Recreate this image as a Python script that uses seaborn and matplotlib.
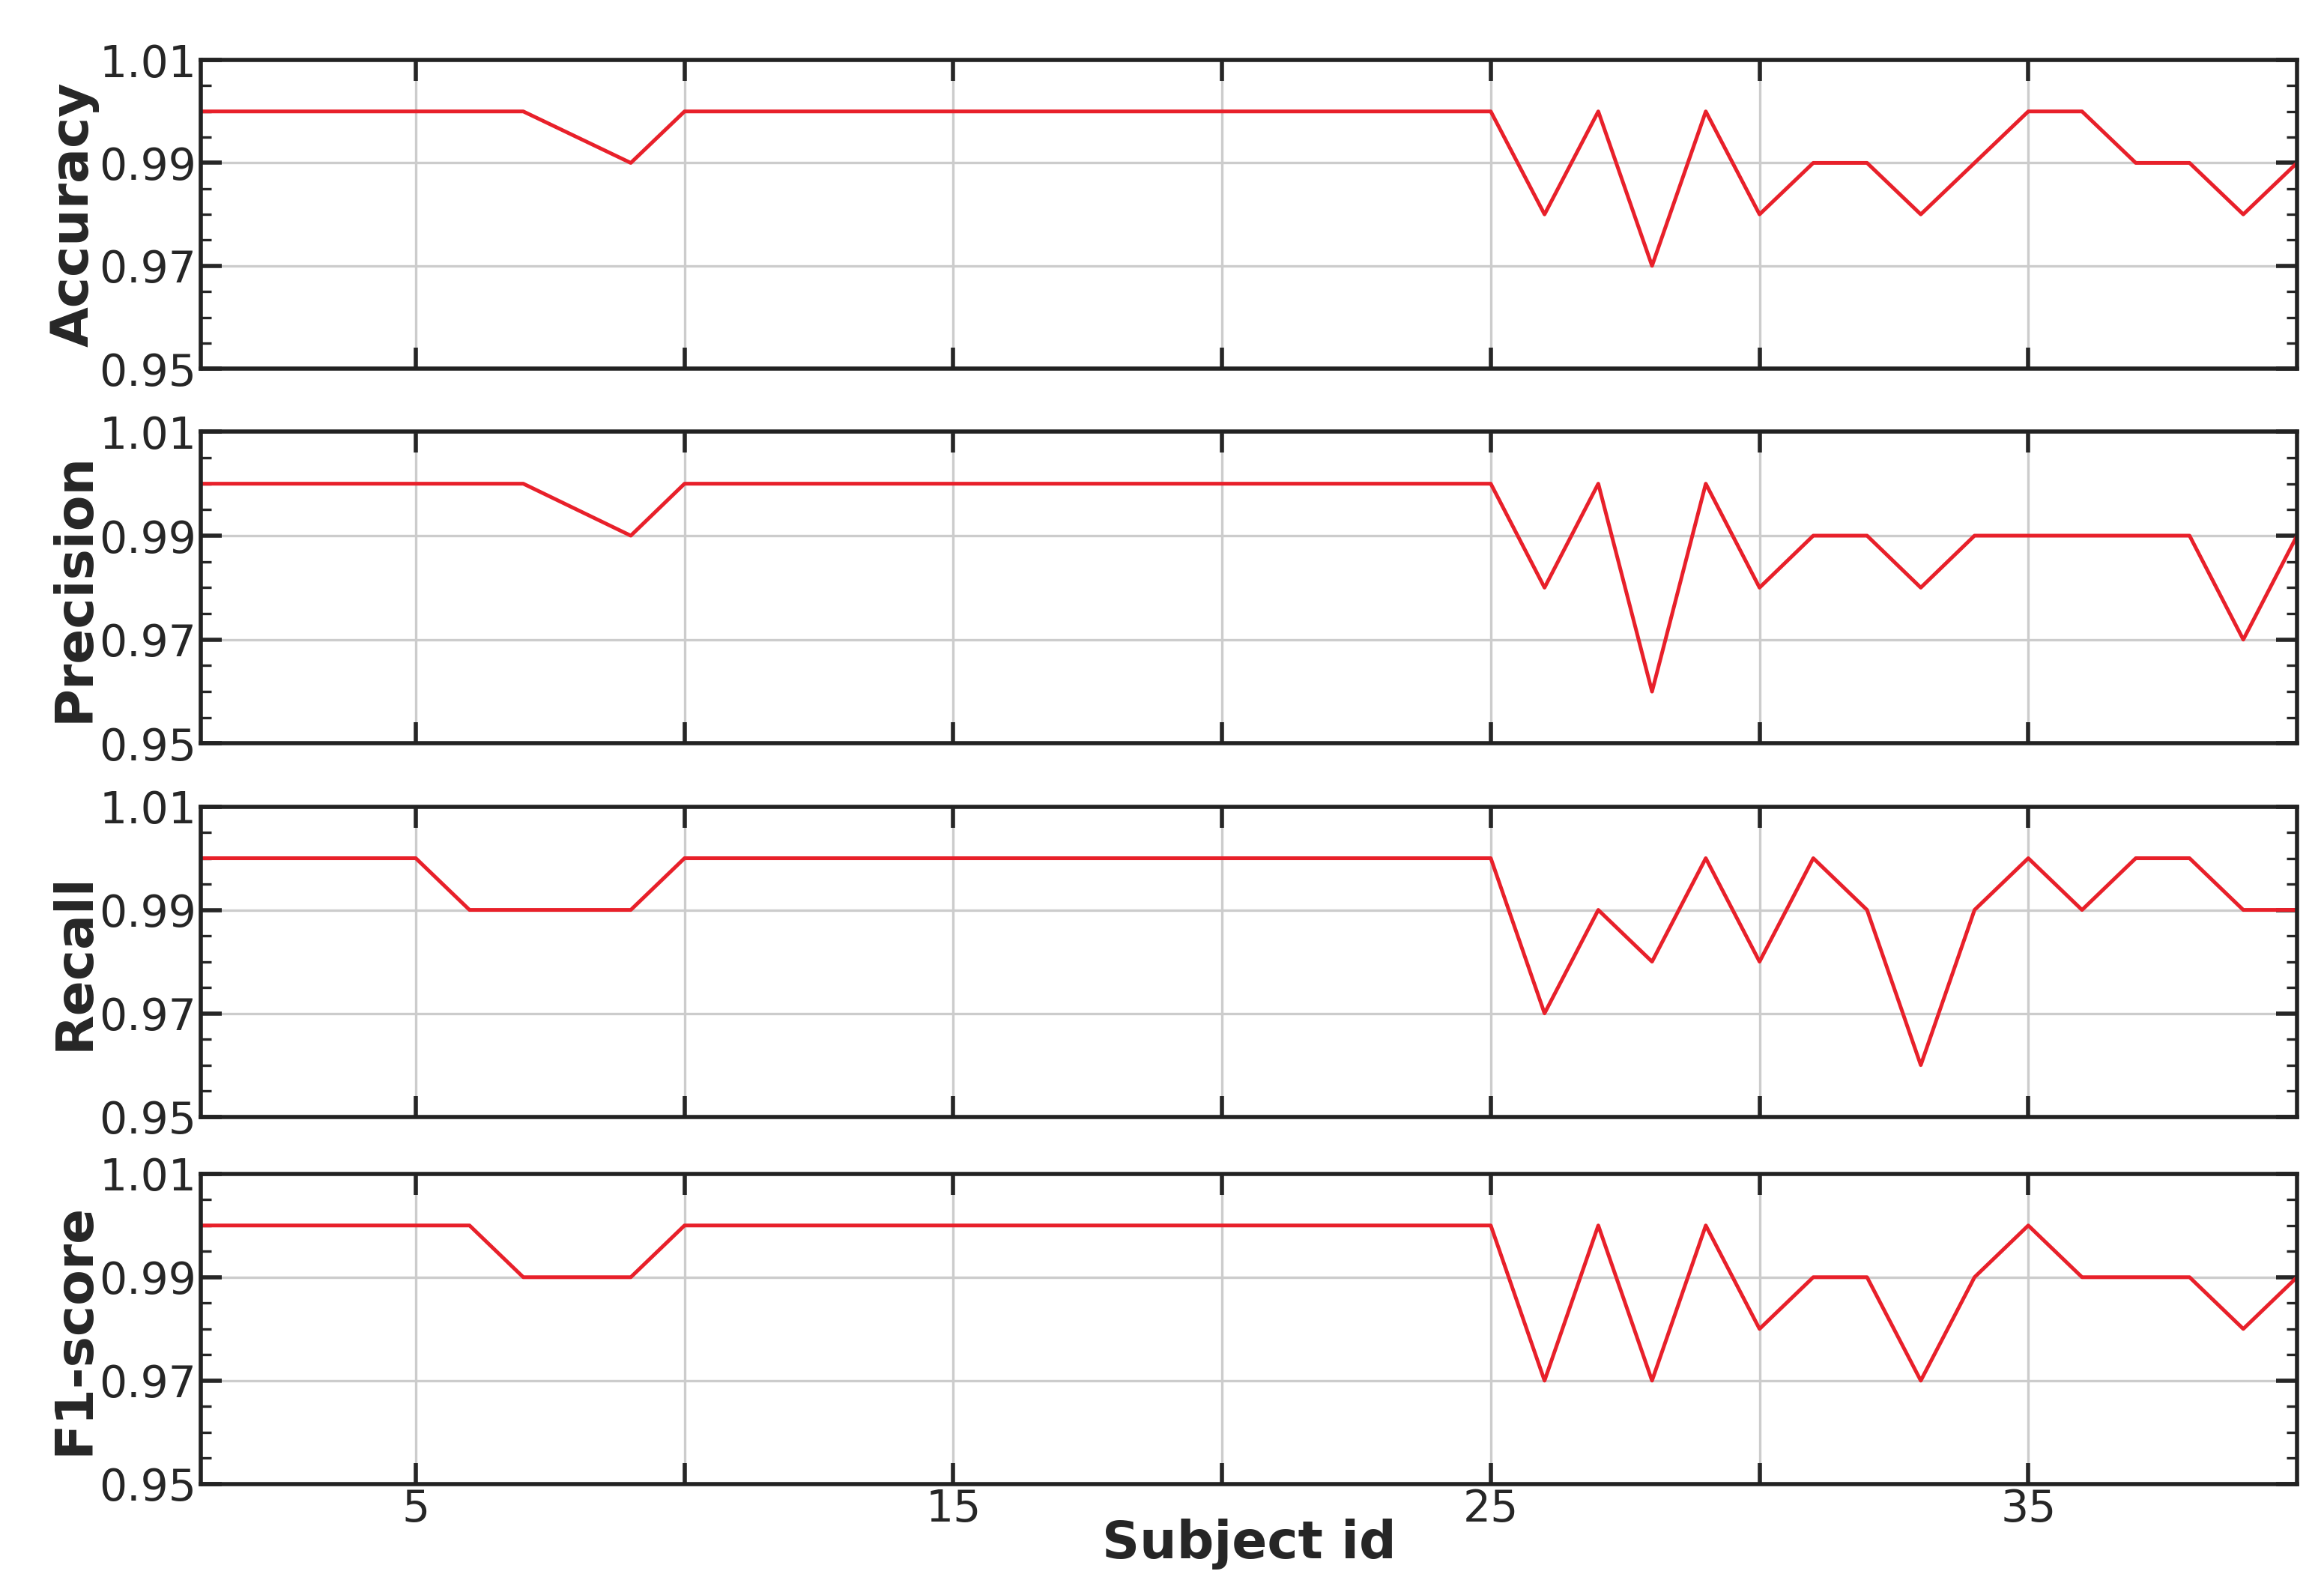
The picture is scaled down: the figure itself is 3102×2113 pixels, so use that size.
import numpy as np
import pandas as pd
import seaborn as sns
import matplotlib.pyplot as plt
from matplotlib.ticker import MultipleLocator

sns.set_theme(style="white")
plt.rcParams['font.family'] = ['DejaVu Sans']

subjects = list(range(1, 41))
accuracy = [1.0]*7 + [0.995, 0.99] + [1.0]*16 + [0.98, 1.0, 0.97, 1.0, 0.98, 0.99, 0.99, 0.98, 0.99, 1.0, 1.0, 0.99, 0.99, 0.98, 0.99]
precision = [1.0]*7 + [0.995, 0.99] + [1.0]*16 + [0.98, 1.0, 0.96, 1.0, 0.98, 0.99, 0.99, 0.98, 0.99, 0.99, 0.99, 0.99, 0.99, 0.97, 0.99]
recall = [1.0]*5 + [0.99]*4 + [1.0]*16 + [0.97, 0.99, 0.98, 1.0, 0.98, 1.0, 0.99, 0.96, 0.99, 1.0, 0.99, 1.0, 1.0, 0.99, 0.99]
f1 = [1.0]*6 + [0.99]*3 + [1.0]*16 + [0.97, 1.0, 0.97, 1.0, 0.98, 0.99, 0.99, 0.97, 0.99, 1.0, 0.99, 0.99, 0.99, 0.98, 0.99]
metrics = ["Accuracy", "Precision", "Recall", "F1-score"]
series = [accuracy, precision, recall, f1]
yticks = [0.95, 0.97, 0.99, 1.01]
xticks = [5, 10, 15, 20, 25, 30, 35]
xticklabels = ["5", "", "15", "", "25", "", "35"]

fig = plt.figure(figsize=(15.51, 10.565), dpi=200)
tops = [40, 288, 538, 783]
bots = [246, 496, 745, 990]
H = 1056.0
for i, (name, vals) in enumerate(zip(metrics, series)):
    ax = fig.add_axes([134/1551, 1 - bots[i]/H, (1533-134)/1551, (bots[i]-tops[i])/H])
    df = pd.DataFrame({"x": subjects, "y": vals})
    sns.lineplot(data=df, x="x", y="y", ax=ax, color="#e8202a", linewidth=1.8)
    ax.set_xlim(1, 40)
    ax.set_ylim(0.95, 1.01)
    ax.set_yticks(yticks)
    ax.set_yticklabels([f"{v:.2f}" for v in yticks], fontsize=21)
    ax.yaxis.set_minor_locator(MultipleLocator(0.005))
    ax.set_xticks(xticks)
    ax.xaxis.set_minor_locator(MultipleLocator(1))
    ax.grid(True, which="major", color="#cccccc", linewidth=1.2)
    ax.tick_params(which="both", direction="in", top=True, right=True, left=True, bottom=True)
    ax.tick_params(which="major", length=10, width=2, pad=2)
    ax.tick_params(which="minor", length=5, width=1.2)
    ax.tick_params(axis="x", which="minor", length=0)
    for s in ax.spines.values():
        s.set_color("#222222"); s.set_linewidth(2)
    ax.set_ylabel(name, fontsize=25, fontweight="bold", labelpad=0)
    if i == 3:
        ax.set_xticklabels(xticklabels, fontsize=21)
        ax.set_xlabel("Subject id", fontsize=25, fontweight="bold", labelpad=-6)
    else:
        ax.set_xticklabels([])
        ax.set_xlabel("")
fig.savefig("out.png", dpi=200)
